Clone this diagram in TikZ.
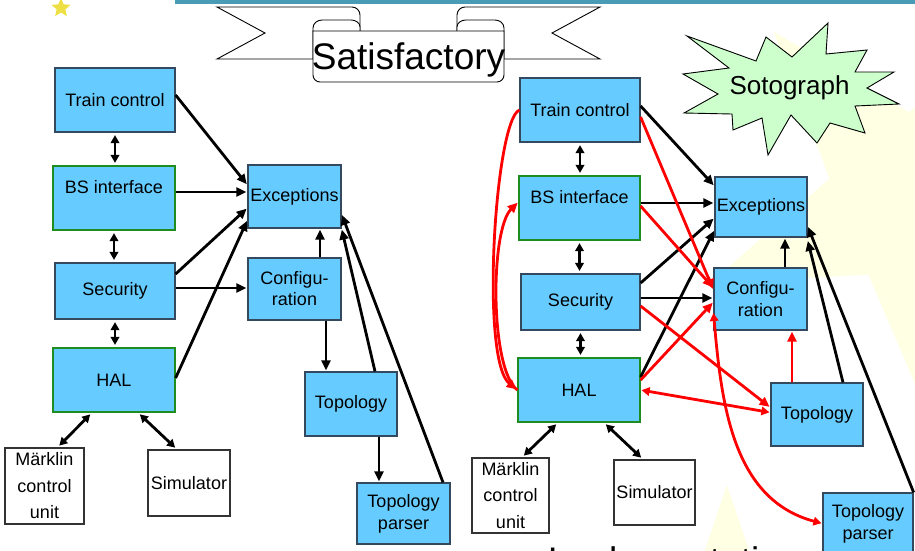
\documentclass[tikz,border=0pt]{standalone}
\usepackage{fontspec}
\setmainfont{Liberation Sans}
\usetikzlibrary{arrows.meta,positioning,shapes.geometric}
\definecolor{boxblue}{HTML}{66CCFF}
\definecolor{boxline}{HTML}{34495E}
\definecolor{halgreen}{HTML}{1E8C1E}
\definecolor{slidebar}{HTML}{4A9BB5}
\definecolor{starglow}{HTML}{FFFFE4}
\definecolor{staryellow}{HTML}{EEE044}
\definecolor{burst}{HTML}{CCFFCC}
\definecolor{depred}{HTML}{FF0000}
\tikzset{
  module/.style={draw=boxline, line width=1.2pt, fill=boxblue, inner sep=0pt, align=center, font=\fontsize{18}{21}\selectfont},
  greenmod/.style={module, draw=halgreen},
  hwbox/.style={draw=black!80, line width=1.2pt, fill=white, inner sep=0pt, align=center, font=\fontsize{18}{26.5}\selectfont},
  uses/.style={line width=2.8pt, -{Triangle[length=10pt,width=9pt]}, shorten >=1pt},
  both/.style={line width=2.8pt, {Triangle[length=8pt,width=8.5pt]}-{Triangle[length=8pt,width=8.5pt]}, shorten >=2.5pt, shorten <=2.5pt},
  reduses/.style={uses, draw=depred},
  redboth/.style={both, draw=depred, shorten >=1pt, shorten <=1pt},
  ribbon/.style={draw=black, line width=0.9pt, fill=white}
}

\begin{document}
\begin{tikzpicture}[x=1pt, y=-1pt]
  \useasboundingbox (0,0) rectangle (915,550);
  \fill[white] (0,0) rectangle (915,550);
  \node[star, star points=5, star point ratio=2.5, minimum size=440pt, fill=starglow, rotate=40] (glowA) at (915,200) {};
  \node[star, star points=5, star point ratio=2.55, minimum size=230pt, fill=starglow] (glowB) at (727,600) {};
  \fill[slidebar] (175,0) rectangle (915,4);
  \node[star, star points=5, star point ratio=2.2, minimum size=20pt, inner sep=0pt, fill=staryellow] (spark) at (61,8) {};

  % Satisfactory banner
  \draw[ribbon] (217,7) -- (352,7) to[out=0,in=90] (360,15) -- (360,31) -- (313,31) -- (313,59) -- (217,59) -- (265,33) -- cycle;
  \draw[ribbon] (600,7) -- (465,7) to[out=180,in=90] (457,15) -- (457,31) -- (504,31) -- (504,59) -- (600,59) -- (552,33) -- cycle;
  \draw[ribbon] (313,31) -- (313,28) to[out=90,in=180] (322,20) -- (351,20) to[out=0,in=90] (360,27) -- (360,31);
  \draw[ribbon] (504,31) -- (504,28) to[out=90,in=0] (495,20) -- (466,20) to[out=180,in=90] (457,27) -- (457,31);
  \draw[ribbon] (313,31) -- (313,75) to[out=-90,in=180] (320,82) -- (497,82) to[out=0,in=-90] (504,75) -- (504,31) -- cycle;
  \node[anchor=base, font=\fontsize{37}{40}\selectfont] (satf) at (408.5,69) {Satisfactory};

  % Sotograph burst
  \draw[fill=burst, line width=0.9pt] (687,36) -- (756,61) -- (766,37) -- (792,57) -- (828,23) -- (826,54) -- (867,50) -- (855,72)
    -- (894,72) -- (867,88) -- (899,104) -- (855,106) -- (865,133) -- (830,123) -- (817,143) -- (791,115) -- (768,155)
    -- (762,118) -- (733,130) -- (732,114) -- (684,113) -- (718,94) -- (683,74) -- (729,68) -- cycle;
  \node[anchor=base, font=\fontsize{26}{30}\selectfont] (sotog) at (789.5,94) {Sotograph};

  % left architecture
  \node[module, minimum width=120pt, minimum height=64pt] (tcL) at (115,100) {Train control};
  \node[greenmod, minimum width=122pt, minimum height=64pt, text depth=22pt] (bsL) at (114,198) {BS interface};
  \node[module, minimum width=120pt, minimum height=56pt] (secL) at (115,291) {Security};
  \node[greenmod, minimum width=122pt, minimum height=64pt] (halL) at (114,380) {HAL};
  \node[hwbox, minimum width=79pt, minimum height=76pt] (mkL) at (44.5,486) {Märklin\\control\\unit};
  \node[hwbox, minimum width=82pt, minimum height=66pt] (simL) at (189,483) {Simulator};
  \node[module, minimum width=93pt, minimum height=63pt] (excL) at (294.5,196.5) {Exceptions};
  \node[module, minimum width=93pt, minimum height=62pt] (cfgL) at (294.5,289) {Configu-\\ration};
  \node[module, minimum width=92pt, minimum height=64pt] (topL) at (351,404) {Topology};
  \node[module, minimum width=93pt, minimum height=61pt, font=\fontsize{18}{22}\selectfont] (tpL) at (403.5,513.5) {Topology\\parser};

  \draw[both] (tcL.south) -- (tcL.south |- bsL.north);
  \draw[both] (bsL.south) -- (bsL.south |- secL.north);
  \draw[both] (secL.south) -- (secL.south |- halL.north);
  \draw[both] ([xshift=-22pt]halL.south) -- ([xshift=13pt]mkL.north);
  \draw[both] ([xshift=24pt]halL.south) -- ([xshift=-12pt]simL.north);
  \draw[uses] ([yshift=5pt]tcL.east) -- ([yshift=11.5pt]excL.west);
  \draw[uses] ([yshift=6pt]bsL.east) -- ([yshift=4.5pt]excL.west);
  \draw[uses] ([yshift=17pt]secL.east) -- ([yshift=-11.5pt]excL.west);
  \draw[uses] ([yshift=2pt]halL.east) -- ([yshift=-23.5pt]excL.west);
  \draw[uses] ([yshift=3pt]secL.east) -- ([yshift=1pt]cfgL.west);
  \draw[uses] ([xshift=25.5pt]cfgL.north) -- ([xshift=25.5pt]excL.south);
  \draw[uses] ([xshift=31.5pt]cfgL.south) -- ([xshift=-25pt]topL.north);
  \draw[uses] ([xshift=24pt]topL.north) -- (excL.south east);
  \draw[uses] ([xshift=28pt]topL.south) -- ([xshift=-24.5pt]tpL.north);
  \draw[uses] ([xshift=39.5pt]tpL.north) -- ([yshift=-17.5pt]excL.east);

  % right architecture
  \node[module, minimum width=120pt, minimum height=64pt] (tcR) at (580,110) {Train control};
  \node[greenmod, minimum width=121pt, minimum height=64pt, text depth=22pt] (bsR) at (579.5,208) {BS interface};
  \node[module, minimum width=119pt, minimum height=56pt] (secR) at (580.5,302) {Security};
  \node[greenmod, minimum width=122pt, minimum height=64pt] (halR) at (579,390) {HAL};
  \node[hwbox, minimum width=77pt, minimum height=75pt] (mkR) at (510.5,495.5) {Märklin\\control\\unit};
  \node[hwbox, minimum width=81pt, minimum height=65pt] (simR) at (654.5,492.5) {Simulator};
  \node[module, minimum width=92pt, minimum height=60pt] (excR) at (761,207) {Exceptions};
  \node[module, minimum width=93pt, minimum height=62pt, font=\fontsize{18}{22}\selectfont] (cfgR) at (760.5,299) {Configu-\\ration};
  \node[module, minimum width=92pt, minimum height=63pt] (topR) at (817,414.5) {Topology};
  \node[module, minimum width=90pt, minimum height=61pt, font=\fontsize{18}{22}\selectfont] (tpR) at (868,523.5) {Topology\\parser};

  \draw[both] (tcR.south) -- (tcR.south |- bsR.north);
  \draw[both] (bsR.south) -- (bsR.south |- secR.north);
  \draw[both] (secR.south) -- (secR.south |- halR.north);
  \draw[both] ([xshift=-21pt]halR.south) -- ([xshift=11.5pt]mkR.north);
  \draw[both] ([xshift=25pt]halR.south) -- ([xshift=-11.5pt]simR.north);
  \draw[uses] ([yshift=4pt]tcR.east) -- ([yshift=21pt]excR.west);
  \draw[uses] ([yshift=5pt]bsR.east) -- ([yshift=4pt]excR.west);
  \draw[uses] ([yshift=19pt]secR.east) -- ([yshift=-11pt]excR.west);
  \draw[uses] ([yshift=13pt]halR.east) -- ([yshift=-23pt]excR.west);
  \draw[uses] ([yshift=4pt]secR.east) -- ([yshift=1pt]cfgR.west);
  \draw[uses] ([xshift=24.5pt]cfgR.north) -- ([xshift=24pt]excR.south);
  \draw[uses] ([xshift=26pt]topR.north) -- ([yshift=-33pt]excR.east);
  \draw[uses] (tpR.north east) -- ([yshift=-19pt]excR.east);

  \draw[reduses] ([yshift=-7pt]tcR.east) -- ([yshift=9pt]cfgR.west);
  \draw[reduses] ([yshift=2pt]bsR.east) -- ([yshift=11pt]cfgR.west);
  \draw[reduses] ([yshift=-4pt]secR.east) -- ([yshift=7pt]topR.west);
  \draw[redboth] (halR.east) -- ([yshift=2pt]topR.west);
  \draw[reduses] ([yshift=10pt]halR.east) -- ([yshift=-3pt]cfgR.west);
  \draw[reduses] ([xshift=-25pt]topR.north) -- ([xshift=31.5pt]cfgR.south);
  \draw[redboth] ([yshift=-13pt]cfgR.west) to[out=-85,in=165] (tpR.west);
  \draw[reduses] (tcR.west) .. controls (495,120) and (480,360) .. (halR.west);
  \draw[reduses] (halR.west) .. controls (490,370) and (490,230) .. ([yshift=6pt]bsR.west);

  \node[anchor=base west, font=\fontsize{37}{40}\selectfont] (impl) at (544,573.5) {Implementation};
\end{tikzpicture}
\end{document}
